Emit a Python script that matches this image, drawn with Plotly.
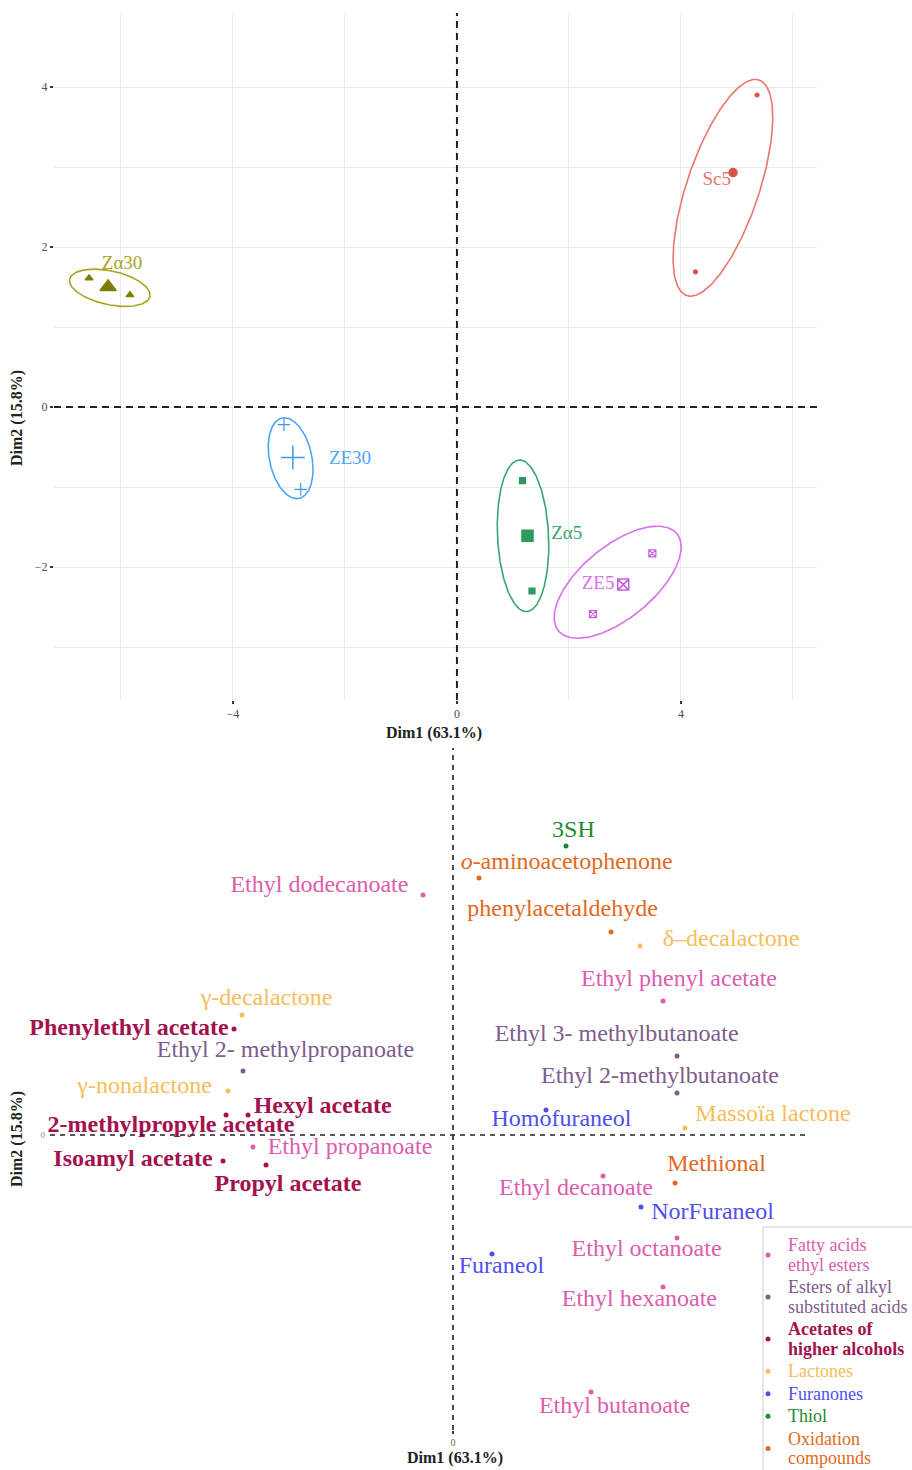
import numpy as np
import plotly.graph_objects as go

W, H = 912, 1470
SERIF = "Liberation Serif"

# ---------------- individuals map (PCA, Dim1 x Dim2) ----------------
groups = ["Sc5", "Zα30", "Zα5", "ZE30", "ZE5"]
group_line_colors = ["#E8766E", "#A8A522", "#3AA570", "#4AA6F2", "#D672EC"]
group_mark_colors = ["#D9534A", "#7F7D00", "#2E9A5E", "#3C9BEE", "#C85CE0"]
group_symbols = ["circle", "triangle-up", "square", "cross-thin-open", "square-x-open"]
mean_size = [8, 14, 11, 17, 11]
rep_size = [4, 7, 6, 9, 7]

mean_x = [4.93, -6.23, 1.26, -2.93, 2.97]
mean_y = [2.93, 1.50, -1.61, -0.63, -2.22]
rep_x = [[5.36, 4.26], [-6.57, -5.84], [1.17, 1.34], [-3.09, -2.79], [3.49, 2.43]]
rep_y = [[3.90, 1.69], [1.61, 1.40], [-0.92, -2.30], [-0.22, -1.03], [-1.83, -2.59]]

group_label_x = [4.64, -5.98, 1.96, -1.91, 2.52]
group_label_y = [2.83, 1.79, -1.59, -0.65, -2.21]

# confidence ellipses: x = cx + a*cos t ; y = cy + b*cos t + c*sin t
ell_cx = [4.75, -6.20, 1.18, -2.97, 2.87]
ell_cy = [2.74, 1.49, -1.61, -0.64, -2.19]
ell_a = [0.89, 0.72, 0.46, 0.40, 1.134]
ell_b = [0.88, -0.09, -0.12, -0.14, 0.44]
ell_c = [1.03, 0.215, 0.94, 0.486, 0.545]

# ---------------- variables map ----------------
classes = ["Fatty acids<br>ethyl esters", "Esters of alkyl<br>substituted acids",
           "Acetates of<br>higher alcohols", "Lactones", "Furanones", "Thiol",
           "Oxidation<br>compounds"]
class_colors = ["#DD5CAE", "#7E5C8E", "#A3124F", "#F7BD5A", "#4F4FEE", "#1F8A2E", "#E2691C"]
class_bold = [False, False, True, False, False, False, False]

compounds = ["Ethyl dodecanoate", "γ-decalactone", "Phenylethyl acetate",
             "Ethyl 2- methylpropanoate", "γ-nonalactone", "Hexyl acetate",
             "2-methylpropyle acetate", "Ethyl propanoate", "Isoamyl acetate",
             "Propyl acetate", "3SH", "<i>o</i>-aminoacetophenone", "phenylacetaldehyde",
             "δ–decalactone", "Ethyl phenyl acetate", "Ethyl 3- methylbutanoate",
             "Ethyl 2-methylbutanoate", "Homofuraneol", "Massoïa lactone", "Methional",
             "Ethyl decanoate", "NorFuraneol", "Ethyl octanoate", "Furaneol",
             "Ethyl hexanoate", "Ethyl butanoate"]
compound_class = [0, 3, 2, 1, 3, 2, 2, 0, 2, 2, 5, 6, 6, 3, 0, 1, 1, 4, 3, 6, 0, 4, 0, 4, 0, 0]
dim1 = [-0.075, -0.5275, -0.5475, -0.525, -0.5625, -0.5125, -0.5675, -0.50, -0.575,
        -0.4675, 0.2825, 0.065, 0.395, 0.4675, 0.525, 0.56, 0.56, 0.2325, 0.58,
        0.555, 0.375, 0.47, 0.56, 0.0975, 0.525, 0.345]
dim2 = [0.600, 0.300, 0.265, 0.160, 0.110, 0.050, 0.050, -0.030, -0.065, -0.075,
        0.7225, 0.6425, 0.5075, 0.4725, 0.335, 0.1975, 0.105, 0.0625, 0.0175,
        -0.120, -0.1025, -0.180, -0.2575, -0.2975, -0.380, -0.6425]
label_dim1 = [-0.334, -0.466, -0.81, -0.419, -0.771, -0.326, -0.705, -0.2575, -0.80,
              -0.4125, 0.301, 0.284, 0.274, 0.695, 0.565, 0.409, 0.5175, 0.271, 0.80,
              0.659, 0.3075, 0.649, 0.484, 0.121, 0.466, 0.404]
label_dim2 = [0.6225, 0.340, 0.265, 0.210, 0.120, 0.070, 0.0225, -0.0325, -0.0625,
              -0.125, 0.760, 0.680, 0.5625, 0.4875, 0.3875, 0.250, 0.145, 0.0375, 0.050,
              -0.075, -0.135, -0.195, -0.2875, -0.330, -0.4125, -0.680]

fig = go.Figure()

# ---- individuals: ellipses, replicates, group means, names ----
t = np.linspace(0, 2 * np.pi, 241)
for i, g in enumerate(groups):
    ex = ell_cx[i] + ell_a[i] * np.cos(t)
    ey = ell_cy[i] + ell_b[i] * np.cos(t) + ell_c[i] * np.sin(t)
    fig.add_trace(go.Scatter(x=ex, y=ey, mode="lines", xaxis="x", yaxis="y",
                             line=dict(color=group_line_colors[i], width=1.6),
                             showlegend=False, hoverinfo="skip"))
    fig.add_trace(go.Scatter(x=rep_x[i], y=rep_y[i], mode="markers", xaxis="x", yaxis="y",
                             marker=dict(symbol=group_symbols[i], size=rep_size[i],
                                         color=group_mark_colors[i],
                                         line=dict(color=group_mark_colors[i], width=1.2)),
                             showlegend=False, name=g))
    fig.add_trace(go.Scatter(x=[mean_x[i]], y=[mean_y[i]], mode="markers", xaxis="x", yaxis="y",
                             marker=dict(symbol=group_symbols[i], size=mean_size[i],
                                         color=group_mark_colors[i],
                                         line=dict(color=group_mark_colors[i], width=1.5)),
                             showlegend=False, name=g))
    fig.add_trace(go.Scatter(x=[group_label_x[i]], y=[group_label_y[i]], mode="text",
                             xaxis="x", yaxis="y", text=[g], textposition="middle center",
                             textfont=dict(family=SERIF, size=19, color=group_line_colors[i]),
                             cliponaxis=False, showlegend=False, hoverinfo="skip"))

# ---- variables: one trace per aroma class ----
for k, cname in enumerate(classes):
    idx = [j for j, c in enumerate(compound_class) if c == k]
    col = class_colors[k]
    weight = "bold" if class_bold[k] else "normal"
    inner = f"<b>{cname}</b>" if class_bold[k] else cname
    legend_name = f"<span style='color:{col};font-size:18px'>{inner}</span>"
    fig.add_trace(go.Scatter(x=[dim1[j] for j in idx], y=[dim2[j] for j in idx],
                             mode="markers", xaxis="x2", yaxis="y2",
                             marker=dict(size=5, color=col), cliponaxis=False,
                             name=legend_name, showlegend=True))
    fig.add_trace(go.Scatter(x=[label_dim1[j] for j in idx], y=[label_dim2[j] for j in idx],
                             mode="text", xaxis="x2", yaxis="y2",
                             text=[compounds[j] for j in idx], textposition="middle center",
                             textfont=dict(family=SERIF, size=24, color=col, weight=weight),
                             cliponaxis=False, showlegend=False, hoverinfo="skip"))

# ---- layout ----
tick_font = dict(family=SERIF, size=12, color="#4D4D4D")
grid_col = "#EBEBEB"

fig.update_layout(
    width=W, height=H,
    margin=dict(l=0, r=0, t=0, b=0, autoexpand=False),
    paper_bgcolor="white", plot_bgcolor="white",
    font=dict(family=SERIF, color="#222222"),
    xaxis=dict(domain=[54 / W, 817 / W], range=[-7.196, 6.43], anchor="y",
               tickvals=[-4, 0, 4], ticks="outside", ticklen=3, tickwidth=1.5,
               tickcolor="#333333", tickfont=tick_font, showgrid=True, gridcolor=grid_col,
               gridwidth=1, zeroline=False, showline=False,
               minor=dict(tickvals=[-6, -2, 2, 6], showgrid=True, gridcolor=grid_col,
                          gridwidth=1, ticks="")),
    yaxis=dict(domain=[770 / H, 1457 / H], range=[-3.6625, 4.925], anchor="x",
               tickvals=[-2, 0, 2, 4], ticks="outside", ticklen=3, tickwidth=1.5,
               tickcolor="#333333", tickfont=tick_font, showgrid=True, gridcolor=grid_col,
               gridwidth=1, zeroline=False, showline=False,
               minor=dict(tickvals=[-3, -1, 1, 3], showgrid=True, gridcolor=grid_col,
                          gridwidth=1, ticks="")),
    xaxis2=dict(domain=[50 / W, 807 / W], range=[-1.0075, 0.885], anchor="y2",
                tickvals=[0], ticks="outside", ticklen=3, tickwidth=1.5, tickcolor="#333333",
                tickfont=dict(family=SERIF, size=10, color="#666666"),
                showgrid=False, zeroline=False, showline=False),
    yaxis2=dict(domain=[40 / H, 722 / H], range=[-0.7375, 0.9675], anchor="x2",
                tickvals=[0], ticks="", tickfont=dict(family=SERIF, size=9, color="#888888"),
                ticklabelstandoff=4, showgrid=False, zeroline=False, showline=False),
    legend=dict(x=748 / W, xanchor="left", y=(H - 1229) / H, yanchor="top",
                font=dict(family=SERIF, size=15), bgcolor="rgba(0,0,0,0)",
                borderwidth=0, itemsizing="trace", tracegroupgap=0),
    showlegend=True,
)

# dashed reference lines through the origin of each map
shapes = []
for xr, yr, dash, w in [("x", "y", "7px,5px", 2), ("x2", "y2", "5px,5px", 1.6)]:
    shapes.append(dict(type="line", xref=xr, yref=f"{yr} domain", x0=0, x1=0, y0=0, y1=1,
                       line=dict(color="#222222", width=w, dash=dash)))
    shapes.append(dict(type="line", xref=f"{xr} domain", yref=yr, x0=0, x1=1, y0=0, y1=0,
                       line=dict(color="#222222", width=w, dash=dash)))
# legend frame
shapes.append(dict(type="line", xref="paper", yref="paper", x0=763 / W, x1=763 / W,
                   y0=0, y1=(H - 1227) / H, line=dict(color="#CCCCCC", width=1)))
shapes.append(dict(type="line", xref="paper", yref="paper", x0=763 / W, x1=1,
                   y0=(H - 1227) / H, y1=(H - 1227) / H, line=dict(color="#CCCCCC", width=1)))
fig.update_layout(shapes=shapes)

# axis titles
title_font = dict(family=SERIF, size=16, color="#222222", weight="bold")
annots = [
    dict(text="Dim1 (63.1%)", x=434 / W, y=(H - 733) / H),
    dict(text="Dim2 (15.8%)", x=17 / W, y=(H - 418) / H, textangle=-90),
    dict(text="Dim1 (63.1%)", x=455 / W, y=(H - 1458) / H),
    dict(text="Dim2 (15.8%)", x=17 / W, y=(H - 1139) / H, textangle=-90),
]
for a in annots:
    fig.add_annotation(xref="paper", yref="paper", showarrow=False, font=title_font,
                       xanchor="center", yanchor="middle", **a)

fig.write_html("out.html")
